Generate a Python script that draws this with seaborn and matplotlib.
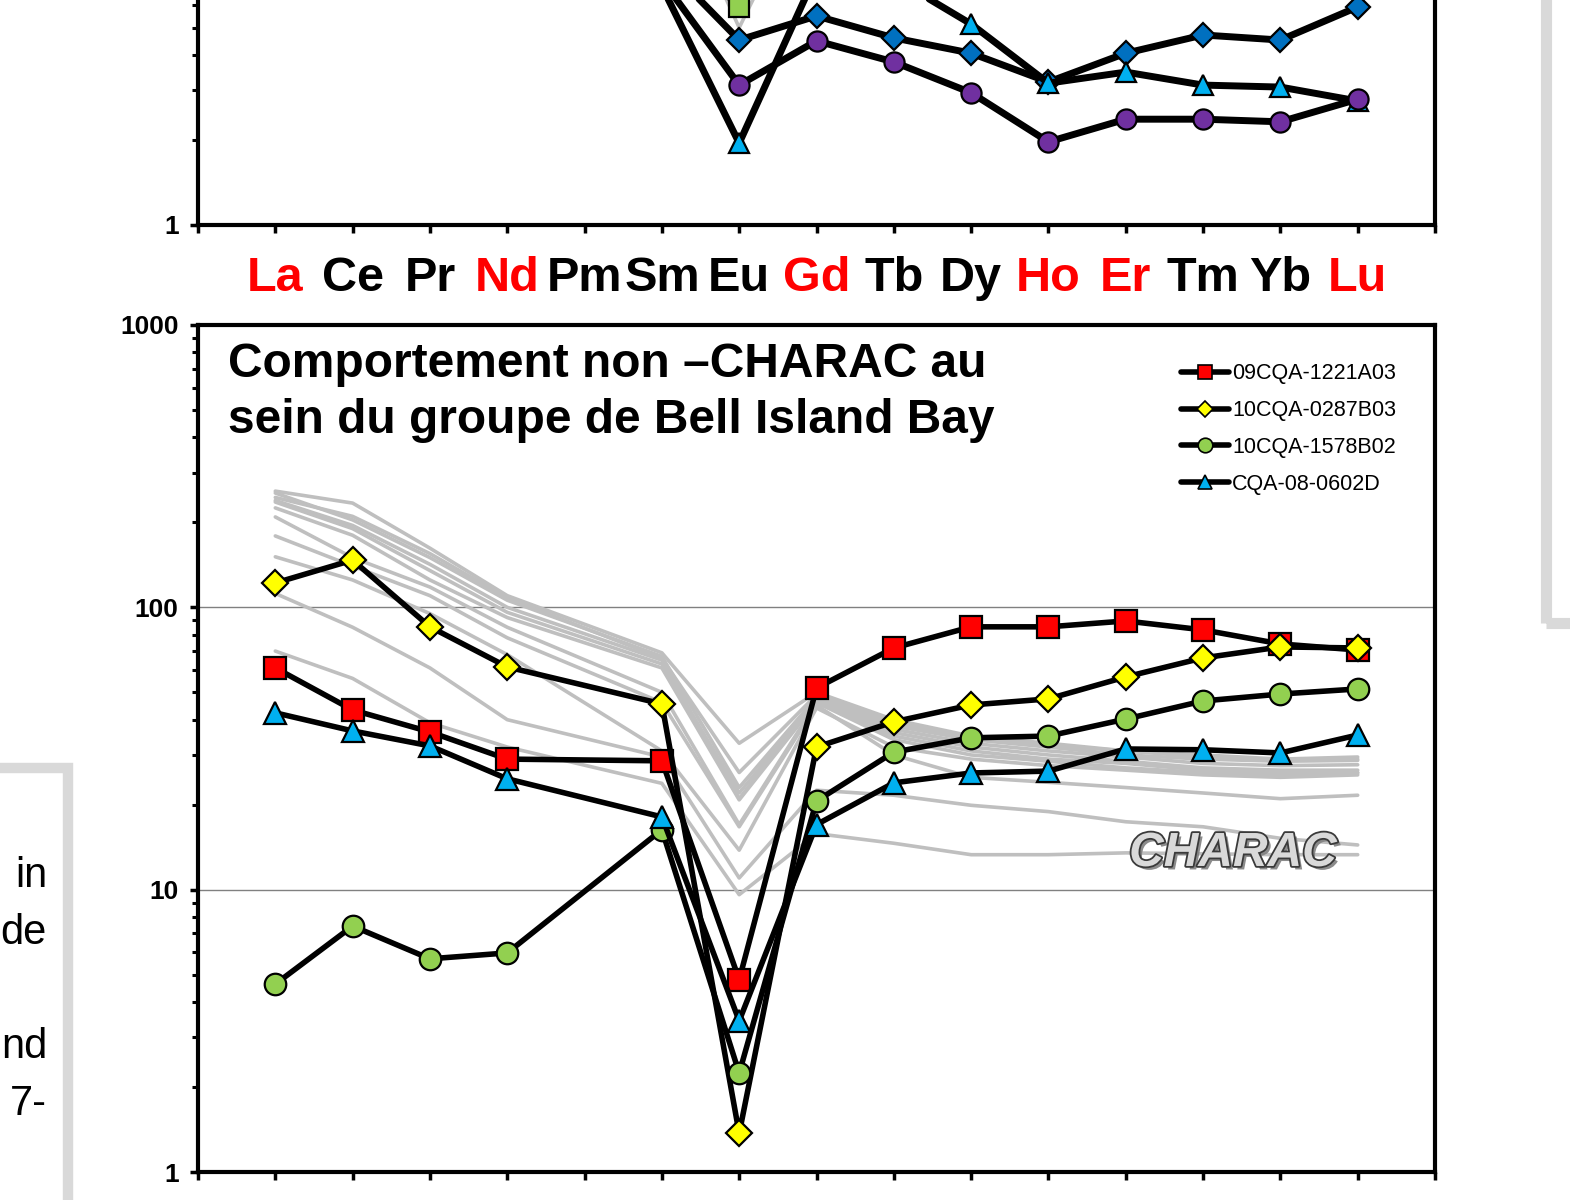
import numpy as np
import pandas as pd
import matplotlib
matplotlib.use("Agg")
import matplotlib.pyplot as plt
import matplotlib.patches as mpatches
import matplotlib.patheffects as pe
from matplotlib.lines import Line2D
from matplotlib.ticker import LogLocator, NullFormatter
import seaborn as sns

# ---------------- data ----------------
elements = ['La', 'Ce', 'Pr', 'Nd', 'Pm', 'Sm', 'Eu', 'Gd', 'Tb', 'Dy', 'Ho', 'Er', 'Tm', 'Yb', 'Lu']
red_elements = ['La', 'Nd', 'Gd', 'Ho', 'Er', 'Lu']
measured = [e for e in elements if e != 'Pm']   # Pm not analysed

# lower panel : non-CHARAC samples (La..Lu without Pm)
s_1221A03 = [61, 43.3, 36.2, 29, 28.6, 4.8, 51.8, 71.8, 85.3, 85.3, 89.5, 83.2, 74.2, 70.6]
s_0287B03 = [122, 147, 85.3, 61.5, 45.5, 1.37, 32, 39.3, 45.1, 47.4, 56.7, 66.2, 72.4, 71.8]
s_1578B02 = [4.63, 7.43, 5.69, 5.97, 16.3, 2.24, 20.6, 30.7, 34.5, 35.0, 40.2, 46.6, 49.3, 51.4]
s_0602D = [42.3, 36.5, 32.3, 24.7, 18.1, 3.43, 17.0, 23.9, 25.9, 26.3, 31.5, 31.3, 30.5, 35.3]
sample_names = ['09CQA-1221A03', '10CQA-0287B03', '10CQA-1578B02', 'CQA-08-0602D']

# lower panel : CHARAC reference field (grey)
charac_01 = [258, 234, 162, 110, 69, 33, 50, 40, 35, 33, 31, 30, 29, 29.5]
charac_02 = [254, 204, 150, 106, 67, 23, 48, 38, 34, 32, 30, 29, 28.5, 28.7]
charac_03 = [239, 195, 142, 100, 65, 21, 47, 37, 33, 31, 29.5, 28, 27.5, 27.7]
charac_04 = [236, 190, 135, 96, 63, 22, 47, 36, 32, 30, 28.5, 27, 26.5, 26.5]
charac_05 = [225, 180, 125, 92, 61, 20.8, 46, 35, 31, 29, 28, 26.5, 26, 25.9]
charac_06 = [209, 150, 118, 85, 50, 17, 46, 34, 30, 28.5, 27, 26, 25.5, 26]
charac_07 = [179, 140, 110, 78, 46, 16.7, 45, 30, 25, 24, 23, 22, 21, 21.6]
charac_08 = [151, 125, 95, 68, 31, 13.8, 44, 32, 29, 27.5, 26.5, 25.5, 25, 25.5]
charac_09 = [112, 85, 61, 40, 29.5, 11, 22.5, 21.6, 19.9, 18.9, 17.4, 16.7, 15.2, 14.4]
charac_10 = [70, 56, 39, 32, 23.8, 9.6, 15.8, 14.6, 13.3, 13.3, 13.5, 13.4, 13.3, 13.3]
charac_11 = [245, 210, 155, 108, 66, 26, 49, 39, 34.5, 32.5, 31, 29.5, 28.8, 29]

# upper panel (only its lowest part is in view)
upper_square = [40, 32, 22, 16, 11, 5.9, 12, 10, 9, 8.5, 8.5, 8.5, 8.5, 9]
upper_diamond = [30, 25, 18, 13, 8.6, 4.52, 5.5, 4.6, 4.06, 3.21, 4.06, 4.71, 4.52, 5.92]
upper_triangle = [20, 17, 13, 10, 7, 1.95, 7.8, 7.5, 5.15, 3.18, 3.48, 3.13, 3.08, 2.75]
upper_circle = [25, 20, 15, 11, 7.4, 3.13, 4.49, 3.78, 2.94, 1.97, 2.37, 2.37, 2.32, 2.79]
upper_grey_1 = [150, 120, 80, 50, 20, 5.0, 18, 15, 13, 12, 12, 12, 12, 12]
upper_grey_2 = [170, 130, 90, 55, 22, 5.5, 20, 16, 14, 13, 13, 13, 13, 13]
upper_grey_3 = [190, 140, 95, 60, 25, 6.0, 22, 18, 15, 14, 14, 14, 14, 14]

# ---------------- style ----------------
sns.set_style("ticks")
plt.rcParams['font.family'] = ['Liberation Sans', 'DejaVu Sans']
plt.rcParams['text.color'] = 'black'
plt.rcParams['xtick.color'] = 'black'
plt.rcParams['ytick.color'] = 'black'
plt.rcParams['axes.labelcolor'] = 'black'

RED, YEL, GRN, CYA, BLU, PUR = '#FF0000', '#FFFF00', '#92D050', '#00B0F0', '#0070C0', '#7030A0'
GREY = '#BFBFBF'

W, H = 1570, 1200
fig = plt.figure(figsize=(W / 100, H / 100), dpi=100)
ax_b = fig.add_axes([198 / W, 1 - 1172 / H, 1237 / W, 847 / H])
ax_t = fig.add_axes([198 / W, 1 - 225 / H, 1237 / W, 847 / H])

xpos = [elements.index(e) for e in measured]


def draw(ax, vals, color='black', lw=4, marker=None, mfc=None, ms=14, z=3):
    df = pd.DataFrame({'x': xpos, 'y': vals})
    kw = dict(color=color, linewidth=lw, zorder=z, legend=False)
    if marker is not None:
        kw.update(marker=marker, markersize=ms, markerfacecolor=mfc,
                  markeredgecolor='black', markeredgewidth=1.6)
    sns.lineplot(data=df, x='x', y='y', ax=ax, **kw)


def style_axes(ax, labels):
    ax.set_yscale('log')
    ax.set_ylim(1, 1000)
    ax.set_xlim(-1, 15)
    ax.set_yticks([1, 10, 100, 1000])
    ax.set_yticklabels(labels, fontsize=19, fontweight='bold', color='black')
    ax.yaxis.set_minor_locator(LogLocator(base=10, subs=range(2, 10)))
    ax.yaxis.set_minor_formatter(NullFormatter())
    ax.set_xticks(range(-1, 16))
    ax.tick_params(axis='y', which='major', direction='out', length=6, width=2.5, pad=8)
    ax.tick_params(axis='y', which='minor', direction='out', length=4.5, width=2.2)
    ax.tick_params(axis='x', which='major', direction='out', length=6, width=2.5)
    ax.yaxis.grid(True, which='major', color='#808080', linewidth=1.0)
    ax.xaxis.grid(False)
    ax.set_axisbelow(True)
    for sp in ax.spines.values():
        sp.set_visible(True)
        sp.set_linewidth(3)
        sp.set_color('black')
    ax.set_xlabel('')
    ax.set_ylabel('')


# ---- lower panel ----
for g in [charac_01, charac_02, charac_03, charac_04, charac_05, charac_06,
          charac_07, charac_08, charac_09, charac_10, charac_11]:
    draw(ax_b, g, color=GREY, lw=2.6, z=2)

draw(ax_b, s_1221A03, marker='s', mfc=RED, ms=16)
draw(ax_b, s_0287B03, marker='D', mfc=YEL, ms=13.5)
draw(ax_b, s_1578B02, marker='o', mfc=GRN, ms=15.5)
draw(ax_b, s_0602D, marker='^', mfc=CYA, ms=16)

style_axes(ax_b, ['1', '10', '100', '1000'])
ax_b.set_xticklabels([])

ax_b.text(0.0243, 0.9386, 'Comportement non \u2013CHARAC au', transform=ax_b.transAxes,
          fontsize=34.5, fontweight='bold', ha='left', va='baseline', color='black')
ax_b.text(0.0243, 0.8725, 'sein du groupe de Bell Island Bay', transform=ax_b.transAxes,
          fontsize=34.5, fontweight='bold', ha='left', va='baseline', color='black')

ch = ax_b.text(0.8367, 0.3613, 'CHARAC', transform=ax_b.transAxes, fontsize=34.5,
               fontweight='bold', fontstyle='italic', ha='center', va='baseline',
               color='#D9D9D9', zorder=5)
ch.set_path_effects([pe.SimplePatchShadow(offset=(2.5, -2.5), shadow_rgbFace='#7F7F7F', alpha=0.9),
                     pe.Stroke(linewidth=2.6, foreground='#3A3A3A'), pe.Normal()])

handles = [
    Line2D([0], [0], color='black', lw=4, marker='s', markersize=10, markerfacecolor=RED,
           markeredgecolor='black', markeredgewidth=1.2),
    Line2D([0], [0], color='black', lw=4, marker='D', markersize=8.5, markerfacecolor=YEL,
           markeredgecolor='black', markeredgewidth=1.2),
    Line2D([0], [0], color='black', lw=4, marker='o', markersize=10.5, markerfacecolor=GRN,
           markeredgecolor='black', markeredgewidth=1.2),
    Line2D([0], [0], color='black', lw=4, marker='^', markersize=10.5, markerfacecolor=CYA,
           markeredgecolor='black', markeredgewidth=1.2),
]
ax_b.legend(handles, sample_names, loc='upper left', bbox_to_anchor=(0.795, 0.955),
            frameon=False, fontsize=15.5, handlelength=2.2, handletextpad=0.15,
            labelspacing=0.74, borderpad=0, borderaxespad=0)

# ---- upper panel ----
for g in [upper_grey_1, upper_grey_2, upper_grey_3]:
    draw(ax_t, g, color=GREY, lw=2.6, z=2)
draw(ax_t, upper_square, marker='s', mfc=GRN, ms=14, lw=5)
draw(ax_t, upper_diamond, marker='D', mfc=BLU, ms=12, lw=5)
draw(ax_t, upper_triangle, marker='^', mfc=CYA, ms=15, lw=5)
draw(ax_t, upper_circle, marker='o', mfc=PUR, ms=14.5, lw=5)

style_axes(ax_t, ['1', '', '', ''])
ax_t.set_xticklabels([''] + elements + [''], fontsize=35, fontweight='bold')
ax_t.tick_params(axis='x', pad=16)
for lbl in ax_t.get_xticklabels():
    lbl.set_color('#FF0000' if lbl.get_text() in red_elements else 'black')

# ---- grey frames of neighbouring panels ----
fig.add_artist(mpatches.Rectangle((-0.2, -0.2), 68 / W + 0.2, (1 - 768 / H) + 0.2,
                                  transform=fig.transFigure, fill=False,
                                  edgecolor='#D9D9D9', linewidth=7.5, clip_on=False))
fig.add_artist(mpatches.Rectangle((1546 / W, 1 - 623 / H), 0.3, 0.8,
                                  transform=fig.transFigure, fill=False,
                                  edgecolor='#D9D9D9', linewidth=8, clip_on=False))
for txt, yb in [('in', 887), ('de', 944), ('nd', 1058), ('7-', 1115)]:
    fig.text(47 / W, 1 - yb / H, txt, fontsize=30, ha='right', va='baseline', color='black')

fig.savefig('out.png', dpi=100)
